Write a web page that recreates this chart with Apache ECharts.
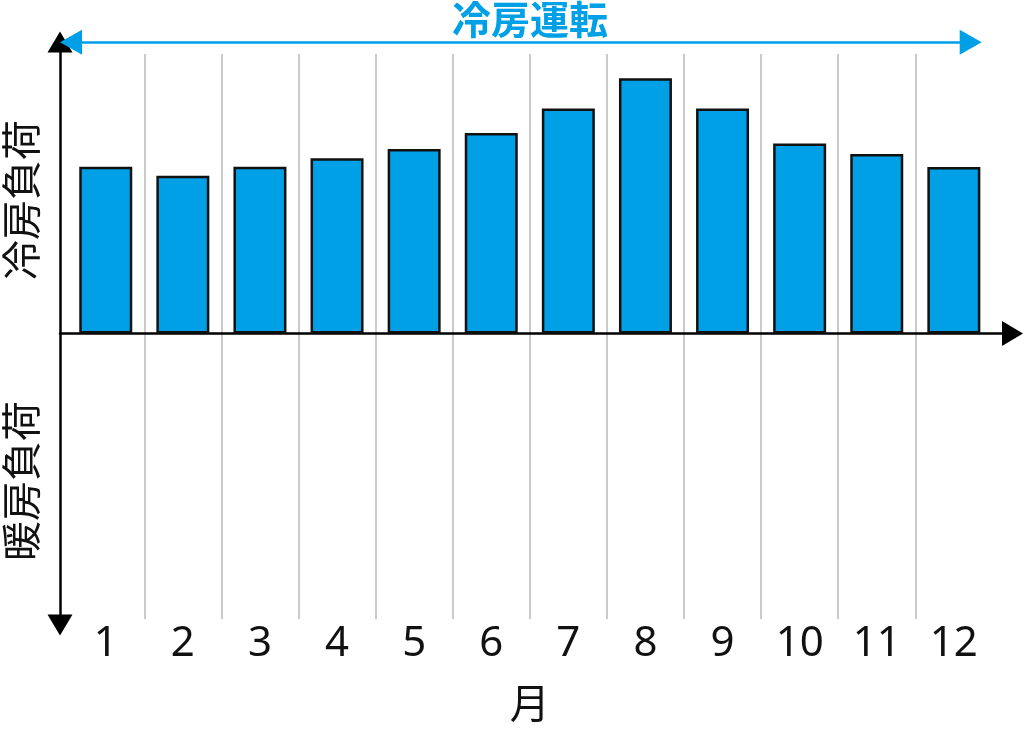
<!DOCTYPE html>
<html>
<head>
<meta charset="utf-8">
<script src="https://cdn.jsdelivr.net/npm/echarts@6/dist/echarts.min.js"></script>
<style>
  html, body { margin: 0; padding: 0; background: #fff; }
  #chart { width: 1024px; height: 734px; }
</style>
</head>
<body>
<div id="chart"></div>
<script>
  // 月
  const months = ['1', '2', '3', '4', '5', '6', '7', '8', '9', '10', '11', '12'];
  // 冷房負荷 (相対値)
  const coolingLoad = [57.2, 54.1, 57.2, 60.1, 63.3, 68.8, 77.2, 87.6, 77.2, 65.2, 61.6, 57.1];

  const blue = '#00a0e6';
  const cjk = '"Noto Sans CJK JP", "Noto Sans", sans-serif';

  const chart = echarts.init(document.getElementById('chart'));

  const option = {
    animation: false,
    grid: [
      // bars
      { left: 67.2, width: 925.2, top: 54, height: 565 },
      // axes with arrows
      { left: 60, width: 952.5, top: 42, height: 583 },
      // 冷房運転 arrow
      { left: 71, width: 899.7, top: 42.3, height: 10 },
    ],
    xAxis: [
      {
        gridIndex: 0,
        type: 'category',
        data: months,
        axisLine: { show: false },
        axisTick: { show: false },
        axisLabel: {
          margin: 4,
          fontSize: 42,
          fontFamily: '"Noto Sans", sans-serif',
          color: '#111',
        },
        splitLine: {
          show: true,
          showMinLine: false,
          showMaxLine: false,
          lineStyle: { color: '#b8b8b8', width: 1.5 },
        },
        name: '月',
        nameLocation: 'middle',
        nameGap: 64,
        nameTextStyle: { fontSize: 40, fontFamily: cjk, color: '#111' },
      },
      {
        gridIndex: 1,
        type: 'value',
        min: 0,
        max: 1,
        axisLine: {
          show: true,
          symbol: ['none', 'triangle'],
          symbolSize: [25, 21],
          lineStyle: { color: '#000', width: 2.5 },
        },
        axisTick: { show: false },
        axisLabel: { show: false },
        splitLine: { show: false },
      },
      {
        gridIndex: 2,
        type: 'value',
        position: 'top',
        min: 0,
        max: 1,
        axisLine: {
          show: true,
          onZero: false,
          symbol: ['triangle', 'triangle'],
          symbolSize: [25, 22],
          lineStyle: { color: blue, width: 2.5 },
        },
        axisTick: { show: false },
        axisLabel: { show: false },
        splitLine: { show: false },
      },
    ],
    yAxis: [
      {
        gridIndex: 0,
        type: 'value',
        min: -97.9,
        max: 95.9,
        show: false,
      },
      {
        gridIndex: 1,
        type: 'value',
        min: -100,
        max: 100,
        axisLine: {
          show: true,
          symbol: ['triangle', 'triangle'],
          symbolSize: [25, 21],
          lineStyle: { color: '#000', width: 2.5 },
        },
        axisTick: { show: false },
        axisLabel: { show: false },
        splitLine: { show: false },
      },
      {
        gridIndex: 2,
        type: 'value',
        show: false,
      },
    ],
    graphic: [
      {
        type: 'text',
        x: 530,
        y: 19,
        style: {
          text: '冷房運転',
          fill: blue,
          font: 'bold 39px ' + cjk,
          textAlign: 'center',
          textVerticalAlign: 'middle',
        },
      },
      {
        type: 'text',
        x: 21,
        y: 200,
        rotation: Math.PI / 2,
        style: {
          text: '冷房負荷',
          fill: '#111',
          font: '40px ' + cjk,
          textAlign: 'center',
          textVerticalAlign: 'middle',
        },
      },
      {
        type: 'text',
        x: 21,
        y: 481,
        rotation: Math.PI / 2,
        style: {
          text: '暖房負荷',
          fill: '#111',
          font: '40px ' + cjk,
          textAlign: 'center',
          textVerticalAlign: 'middle',
        },
      },
    ],
    series: [
      {
        type: 'bar',
        xAxisIndex: 0,
        yAxisIndex: 0,
        data: coolingLoad,
        barWidth: 53,
        itemStyle: {
          color: blue,
          borderColor: '#111',
          borderWidth: 2.5,
        },
      },
    ],
  };

  chart.setOption(option);
</script>
</body>
</html>
